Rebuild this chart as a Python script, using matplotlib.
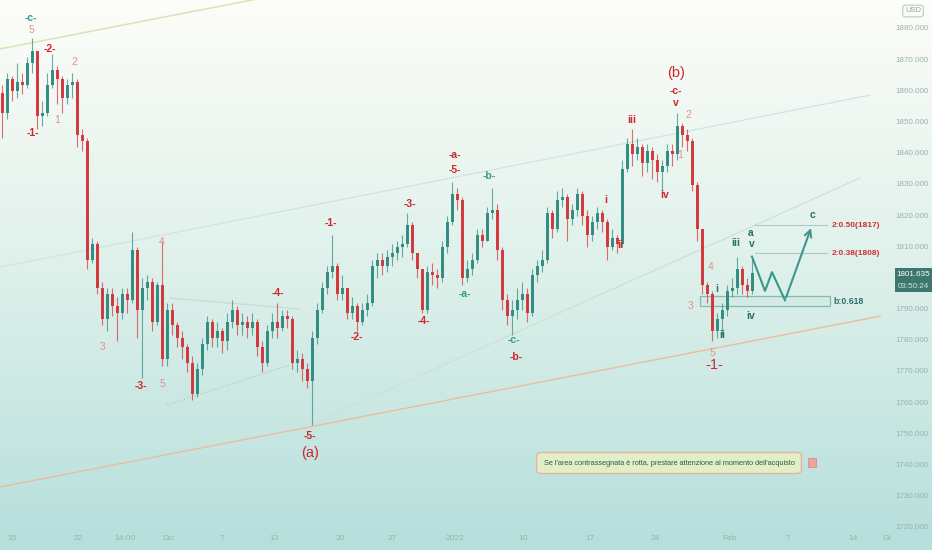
import matplotlib
matplotlib.use('Agg')
import matplotlib.pyplot as plt
import numpy as np
from matplotlib.patches import Rectangle

plt.rcParams['font.family'] = ['Liberation Sans', 'DejaVu Sans']

# --- candle data (4h gold) ---
first_open = 1859.5
closes = [1853, 1864, 1860, 1863, 1862, 1869, 1873, 1852, 1853, 1862,
          1867, 1864, 1858, 1862, 1863, 1846, 1844, 1806, 1811, 1797,
          1787, 1795, 1791, 1789, 1795, 1793, 1809, 1790, 1797, 1799,
          1786, 1798, 1774, 1790, 1785, 1781, 1778, 1773, 1763, 1771,
          1779, 1786, 1781, 1783, 1780, 1786, 1790, 1785, 1786, 1784,
          1786, 1778, 1773, 1783, 1786, 1784, 1788, 1787, 1773, 1774,
          1771, 1767, 1781, 1790, 1797, 1802, 1804, 1795, 1797, 1789,
          1791, 1786, 1790, 1792, 1804, 1806, 1804, 1807, 1808, 1810,
          1811, 1817, 1808, 1803, 1790, 1802, 1801, 1800, 1810, 1818,
          1827, 1825, 1800, 1803, 1806, 1814, 1812, 1821, 1822, 1809,
          1793, 1788, 1790, 1793, 1795, 1789, 1801, 1804, 1806, 1821,
          1816, 1825, 1826, 1819, 1822, 1827, 1820, 1814, 1818, 1821,
          1818, 1810, 1813, 1811, 1835, 1843, 1840, 1842, 1837, 1841,
          1838, 1834, 1836, 1841, 1840, 1849, 1846, 1844, 1830, 1816,
          1798, 1795, 1783, 1787, 1790, 1796, 1797, 1803, 1798, 1796,
          1801.635]
highs = [1862, 1866, 1865, 1869, 1866, 1871, 1877, 1873, 1857, 1866,
         1872, 1868, 1865, 1864, 1866, 1864, 1848, 1845, 1813, 1812,
         1799, 1797, 1797, 1794, 1797, 1797, 1815, 1810, 1800, 1801,
         1800, 1799, 1812, 1792, 1792, 1786, 1783, 1779, 1775, 1773,
         1781, 1788, 1787, 1786, 1784, 1789, 1793, 1791, 1789, 1788,
         1789, 1787, 1780, 1785, 1789, 1792, 1790, 1790, 1788, 1777,
         1776, 1773, 1783, 1792, 1799, 1804, 1814, 1805, 1801, 1797,
         1794, 1792, 1792, 1795, 1806, 1808, 1808, 1809, 1811, 1812,
         1814, 1821, 1818, 1808, 1803, 1804, 1805, 1803, 1812, 1820,
         1831, 1829, 1826, 1806, 1808, 1816, 1816, 1823, 1829, 1824,
         1810, 1795, 1793, 1797, 1799, 1797, 1803, 1806, 1809, 1823,
         1822, 1828, 1829, 1827, 1824, 1829, 1828, 1822, 1820, 1823,
         1822, 1819, 1816, 1814, 1838, 1845, 1848, 1845, 1843, 1843,
         1842, 1840, 1838, 1843, 1843, 1853, 1850, 1848, 1845, 1831,
         1816, 1799, 1796, 1789, 1792, 1798, 1800, 1807, 1804, 1800,
         1807]
lows = [1845, 1851, 1857, 1858, 1859, 1861, 1866, 1848, 1849, 1852,
        1861, 1856, 1853, 1856, 1858, 1842, 1841, 1803, 1805, 1795,
        1785, 1783, 1788, 1780, 1787, 1789, 1792, 1781, 1768, 1793,
        1783, 1785, 1772, 1772, 1782, 1778, 1774, 1770, 1761, 1762,
        1769, 1777, 1778, 1778, 1776, 1777, 1784, 1782, 1782, 1781,
        1782, 1775, 1770, 1772, 1781, 1781, 1783, 1784, 1771, 1770,
        1767, 1765, 1753, 1779, 1789, 1795, 1800, 1793, 1793, 1787,
        1787, 1783, 1785, 1788, 1791, 1800, 1801, 1802, 1804, 1806,
        1807, 1810, 1806, 1800, 1789, 1789, 1798, 1797, 1799, 1808,
        1817, 1822, 1798, 1799, 1801, 1805, 1810, 1812, 1819, 1806,
        1790, 1785, 1782, 1787, 1790, 1786, 1788, 1799, 1802, 1805,
        1813, 1815, 1823, 1812, 1817, 1820, 1817, 1810, 1812, 1816,
        1815, 1806, 1809, 1808, 1810, 1834, 1836, 1838, 1833, 1834,
        1832, 1831, 1827, 1834, 1836, 1838, 1842, 1841, 1828, 1812,
        1795, 1792, 1780, 1781, 1782, 1788, 1794, 1795, 1795, 1794,
        1795]

# projected path (candle index, price)
proj_x = [150, 152.6, 154, 156.6, 162]
proj_y = [1807, 1796, 1802, 1793, 1817]

fib_levels = [1817, 1808]
fib_labels = ['2:0.50(1817)', '2:0.38(1808)']
zone_low, zone_high = 1791, 1794.3

price_ticks = list(range(1880, 1710, -10))
time_ticks = [2, 15.2, 24.6, 33.2, 44, 54.4, 67.6, 78, 90.6, 104.2,
              117.6, 130.6, 145.6, 157.2, 170.2, 177]
time_labels = ['15', '22', '14:00', 'Dic', '7', '13', '20', '27', '2022',
               '10', '17', '24', 'Feb', '7', '14', 'Gi']

# wave labels: text, candle index, price, style
waves = [
    ('-c-', 5.8, 1883.5, 't'), ('5', 5.8, 1879.7, 'p'), ('-1-', 6.2, 1846.6, 'r'),
    ('-2-', 9.6, 1873.6, 'r'), ('1', 11, 1850.8, 'p'), ('2', 14.4, 1869.4, 'p'),
    ('3', 20.2, 1778, 'p'), ('-3-', 27.8, 1765.5, 'r'), ('4', 32, 1811.7, 'p'),
    ('5', 32, 1766.1, 'p'), ('-4-', 55.2, 1795.3, 'r'), ('-5-', 61.6, 1749.4, 'r'),
    ('(a)', 61.6, 1744, 'R'), ('-1-', 65.8, 1817.8, 'r'), ('-2-', 71, 1781.2, 'r'),
    ('-3-', 81.6, 1823.9, 'r'), ('-4-', 84.4, 1786.3, 'r'), ('-a-', 90.6, 1839.6, 'r'),
    ('-5-', 90.6, 1834.8, 'r'), ('-b-', 97.4, 1832.8, 't'), ('-a-', 92.6, 1795, 't'),
    ('-c-', 102.4, 1780.2, 't'), ('-b-', 102.8, 1774.8, 'r'), ('i', 120.8, 1825.1, 'r'),
    ('ii', 123.6, 1810.7, 'r'), ('iii', 126, 1850.8, 'r'), ('iv', 132.6, 1826.7, 'r'),
    ('v', 134.8, 1856.3, 'r'), ('-c-', 134.8, 1860.1, 'r'), ('(b)', 134.8, 1865.9, 'R'),
    ('1', 135.6, 1839.6, 'p'), ('2', 137.2, 1852.4, 'p'), ('3', 137.8, 1791.1, 'p'),
    ('4', 141.8, 1803.6, 'p'), ('5', 142, 1776, 'p'), ('-1-', 142.4, 1772.2, 'R'),
    ('i', 143, 1796.6, 'd'), ('ii', 144, 1781.8, 'd'), ('iii', 146.8, 1811.3, 'd'),
    ('iv', 149.8, 1787.9, 'd'), ('a', 149.8, 1814.6, 'd'), ('v', 150, 1811, 'd'),
    ('c', 162, 1820.3, 'd'),
]

# --- figure ---
W, H = 932, 550
fig = plt.figure(figsize=(W / 100, H / 100), dpi=100)

bg = fig.add_axes([0, 0, 1, 1])
top = np.array([253, 253, 249]) / 255
mid = np.array([222, 240, 234]) / 255
bot = np.array([181, 223, 220]) / 255
t = np.linspace(0, 1, 300)[:, None]
grad = np.where(t < 0.5, top + (mid - top) * (t / 0.5), mid + (bot - mid) * ((t - 0.5) / 0.5))
bg.imshow(grad[:, None, :], aspect='auto', extent=[0, 1, 0, 1])
bg.axis('off')

ax = fig.add_axes([0, 0, 893 / W, 1])
ax.set_facecolor('none')
ax.set_xlim(-0.4, 178.2)
ax.set_ylim(1712.9, 1889.3)
ax.axis('off')

# trend / channel lines
ax.plot([-0.4, 59.6], [1873.6, 1892.3], color='#d6e5b6', lw=1.1, zorder=1)
ax.plot([-0.4, 173.6], [1803.6, 1858.8], color='#d2e4de', lw=0.9, zorder=1)
ax.plot([-0.4, 175.6], [1733.1, 1787.9], color='#ebbd9d', lw=1.0, zorder=1)
ax.plot([61.6, 171.6], [1753, 1832.2], color='#cbe2d6', lw=0.9, zorder=1)
ax.plot([33.6, 59.6], [1793.7, 1790.2], color='#c9dbd6', lw=0.9, zorder=1)
ax.plot([33, 57.6], [1759.4, 1772.2], color='#a6c4bd', lw=0.8, ls=':', zorder=1)

# candles
opens = [first_open] + closes[:-1]
idx = np.arange(len(closes))
up_c, dn_c = '#2e8a7f', '#d23439'
colors = [up_c if c >= o else dn_c for o, c in zip(opens, closes)]
ax.vlines(idx, lows, highs, colors=colors, lw=0.8, alpha=0.7, zorder=3)
bottoms = np.minimum(opens, closes)
heights = np.maximum(np.abs(np.array(closes) - np.array(opens)), 0.35)
ax.bar(idx, heights, bottom=bottoms, width=0.6, color=colors, alpha=0.95, zorder=4)

# fib levels and zone
for lvl, lab in zip(fib_levels, fib_labels):
    ax.plot([150.5, 165], [lvl, lvl], color='#a8ccc4', lw=0.8, zorder=2)
    ax.text(166, lvl, lab, color='#c8323a', fontsize=6, fontweight='bold',
            va='center', ha='left')
ax.add_patch(Rectangle((139.6, zone_low), 26, zone_high - zone_low,
                       facecolor='#d4ebe3', edgecolor='#7fb3a9', lw=0.9, alpha=0.9, zorder=2))
ax.text(166.2, (zone_low + zone_high) / 2, 'b:0.618', color='#2f6f66', fontsize=6.2,
        fontweight='bold', va='center', ha='left')

# projected path
ax.plot(proj_x[:-1], proj_y[:-1], color='#3c978b', lw=1.5, zorder=5)
ax.annotate('', xy=(proj_x[-1], proj_y[-1]), xytext=(proj_x[-2], proj_y[-2]),
            arrowprops=dict(arrowstyle='->', color='#3c978b', lw=1.5,
                            mutation_scale=12), zorder=5)

# wave labels
styles = {
    'r': dict(color='#d0262d', fontsize=7.5, fontweight='bold'),
    'R': dict(color='#d0262d', fontsize=10.5),
    't': dict(color='#3a9a8f', fontsize=7.5, fontweight='bold'),
    'p': dict(color='#e49088', fontsize=7.5),
    'd': dict(color='#2d6e66', fontsize=7.5, fontweight='bold'),
}
for txt, x, y, s in waves:
    ax.text(x, y, txt, ha='center', va='center', zorder=6, **styles[s])

# note box
ax.text(133.4, 1740.8,
        "Se l'area contrassegnata è rotta, prestare attenzione al momento dell'acquisto",
        ha='center', va='center', fontsize=5.3, color='#2c5a53',
        bbox=dict(boxstyle='round,pad=0.95,rounding_size=0.6', facecolor='#e2efc6',
                  edgecolor='#e4b3a6', lw=1))
ax.add_patch(Rectangle((161.2, 1739.5), 1.5, 2.8, facecolor='#eaa49c',
                       edgecolor='#e08a82', lw=0.6, zorder=6))

# time axis
for tx, tl in zip(time_ticks, time_labels):
    ax.text(tx, 1716.6, tl, ha='center', va='center', fontsize=6, color='#9ab3ae')

# price axis
last = closes[-1]
for p in price_ticks:
    if abs(p - last) < 4:
        continue
    ypx = 29 + (1880 - p) * 3.117
    fig.text(912 / W, 1 - ypx / H, f'{p:.3f}', ha='center', va='center',
             fontsize=5.8, color='#98b2ad')
fig.text(913 / W, 1 - 11 / H, 'USD', ha='center', va='center', fontsize=5.5,
         color='#8aa5a0', bbox=dict(boxstyle='round,pad=0.3', facecolor='none',
                                    edgecolor='#b9cdc9', lw=0.8))
fig.patches.append(Rectangle((895 / W, 1 - 292 / H), 37 / W, 24 / H,
                             transform=fig.transFigure, facecolor='#3d786f',
                             edgecolor='none', zorder=5))
fig.text(913 / W, 1 - 275 / H, f'{last:.3f}', ha='center', va='center',
         fontsize=5.8, color='white', zorder=6)
fig.text(913 / W, 1 - 286 / H, '03:50:24', ha='center', va='center',
         fontsize=5.8, color='#cfe6e1', zorder=6)

fig.savefig('out.png', dpi=100)
